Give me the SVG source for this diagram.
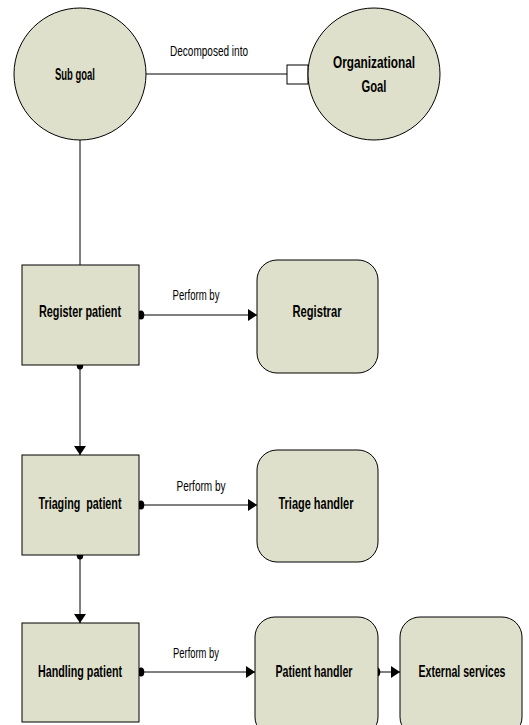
<svg xmlns="http://www.w3.org/2000/svg" width="529" height="725" viewBox="0 0 529 725">
<style>
.n{fill:#dfe0cb;stroke:#000;stroke-width:1}
.t{font-family:"Liberation Sans",Arial,sans-serif;font-weight:bold;font-size:16.5px;text-anchor:middle}
.l{font-family:"Liberation Sans",Arial,sans-serif;font-size:14px;text-anchor:middle}
.c{stroke:#000;stroke-width:1;fill:none}
</style>
<defs>
<marker id="ah" markerWidth="10" markerHeight="12" refX="9" refY="6" orient="auto" markerUnits="userSpaceOnUse">
<path d="M0,0 L9,6 L0,12 Z" fill="#000"/>
</marker>
<marker id="dot" markerWidth="8" markerHeight="10" refX="4" refY="5" markerUnits="userSpaceOnUse">
<ellipse cx="4" cy="5" rx="3.3" ry="4.6" fill="#000"/>
</marker>
</defs>
<rect width="529" height="725" fill="#fff"/>
<g id="connectors">
<line class="c" x1="146" y1="74" x2="287" y2="74"/>
<rect x="287" y="65" width="21" height="19" fill="#fff" stroke="#000"/>
<text class="l" x="209" y="56" textLength="78" lengthAdjust="spacingAndGlyphs">Decomposed into</text>
<line class="c" x1="80" y1="140" x2="80" y2="265"/>
<line class="c" x1="141" y1="315" x2="257" y2="315" marker-start="url(#dot)" marker-end="url(#ah)"/>
<text class="l" x="196" y="300" textLength="47" lengthAdjust="spacingAndGlyphs">Perform by</text>
<line class="c" x1="80" y1="365" x2="80" y2="455" marker-start="url(#dot)" marker-end="url(#ah)"/>
<line class="c" x1="141" y1="505" x2="257" y2="505" marker-start="url(#dot)" marker-end="url(#ah)"/>
<text class="l" x="201" y="491" textLength="49" lengthAdjust="spacingAndGlyphs">Perform by</text>
<line class="c" x1="80" y1="555" x2="80" y2="623" marker-start="url(#dot)" marker-end="url(#ah)"/>
<line class="c" x1="141" y1="672" x2="255" y2="672" marker-start="url(#dot)" marker-end="url(#ah)"/>
<text class="l" x="196" y="658" textLength="46" lengthAdjust="spacingAndGlyphs">Perform by</text>
<line class="c" x1="377" y1="672" x2="400" y2="672" marker-start="url(#dot)" marker-end="url(#ah)"/>
</g>
<g id="subgoal">
<circle class="n" cx="80" cy="74" r="66"/>
<text class="t" x="75" y="80" textLength="40" lengthAdjust="spacingAndGlyphs">Sub goal</text>
</g>
<g id="orggoal">
<circle class="n" cx="374" cy="74" r="66"/>
<text class="t" x="374" y="68" textLength="82" lengthAdjust="spacingAndGlyphs">Organizational</text>
<text class="t" x="374" y="92" textLength="25" lengthAdjust="spacingAndGlyphs">Goal</text>
</g>
<g id="register">
<rect class="n" x="22" y="265" width="117" height="100"/>
<text class="t" x="80" y="317" textLength="82" lengthAdjust="spacingAndGlyphs">Register patient</text>
</g>
<g id="registrar">
<rect class="n" x="257" y="260" width="121" height="113" rx="20"/>
<text class="t" x="317" y="317" textLength="49" lengthAdjust="spacingAndGlyphs">Registrar</text>
</g>
<g id="triaging">
<rect class="n" x="22" y="455" width="117" height="100"/>
<text class="t" x="80" y="509" textLength="83" lengthAdjust="spacingAndGlyphs" xml:space="preserve">Triaging  patient</text>
</g>
<g id="triagehandler">
<rect class="n" x="257" y="450" width="121" height="112" rx="20"/>
<text class="t" x="316" y="509" textLength="75" lengthAdjust="spacingAndGlyphs">Triage handler</text>
</g>
<g id="handling">
<rect class="n" x="22" y="623" width="117" height="99"/>
<text class="t" x="80" y="677" textLength="84" lengthAdjust="spacingAndGlyphs">Handling patient</text>
</g>
<g id="patienthandler">
<rect class="n" x="255" y="617" width="123" height="120" rx="20"/>
<text class="t" x="314" y="677" textLength="77" lengthAdjust="spacingAndGlyphs">Patient handler</text>
</g>
<g id="external">
<rect class="n" x="400" y="617" width="122" height="120" rx="20"/>
<text class="t" x="462" y="677" textLength="87" lengthAdjust="spacingAndGlyphs">External services</text>
</g>
</svg>
